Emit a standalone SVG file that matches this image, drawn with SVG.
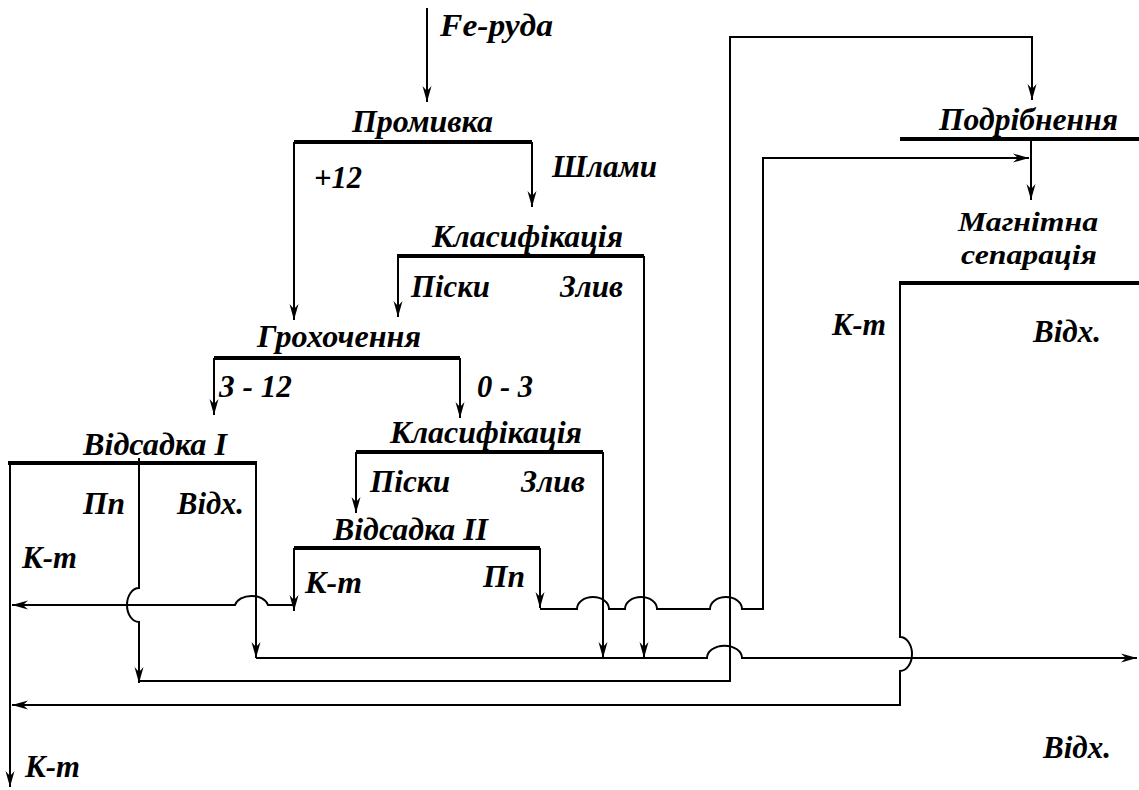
<svg xmlns="http://www.w3.org/2000/svg" width="1139" height="790" viewBox="0 0 1139 790">
<style>
.bar{stroke:#000;stroke-width:4;fill:none}
.ln{stroke:#000;stroke-width:2;fill:none;stroke-linejoin:miter}
.ar{marker-end:url(#arr)}
text{font-family:"Liberation Serif","Times New Roman",serif;font-weight:bold;font-style:italic;font-size:31px;fill:#000}
.sm{font-size:28px}
</style>
<defs>
<marker id="arr" markerUnits="userSpaceOnUse" viewBox="-17 -6 18 12" refX="0" refY="0" markerWidth="18" markerHeight="12" orient="auto">
<path d="M0,0 L-16,-4.5 L-11,0 L-16,4.5 Z" fill="#000"/>
</marker>
</defs>
<rect width="1139" height="790" fill="#fff"/>

<g id="input">
<text x="440" y="36" textLength="113" lengthAdjust="spacingAndGlyphs">Fe-руда</text>
</g>
<g id="promyvka">
<line class="bar" x1="294" y1="142" x2="532" y2="142"/>
<text x="352" y="132" textLength="141" lengthAdjust="spacingAndGlyphs">Промивка</text>
</g>
<g id="klasyf1">
<line class="bar" x1="398" y1="256" x2="644" y2="256"/>
<text x="432" y="247" textLength="191" lengthAdjust="spacingAndGlyphs">Класифікація</text>
</g>
<g id="grokhochennia">
<line class="bar" x1="214" y1="358" x2="460" y2="358"/>
<text x="257" y="347" textLength="164" lengthAdjust="spacingAndGlyphs">Грохочення</text>
</g>
<g id="vidsadka1">
<line class="bar" x1="8" y1="463" x2="257" y2="463"/>
<text x="83" y="455" textLength="144" lengthAdjust="spacingAndGlyphs">Відсадка I</text>
</g>
<g id="klasyf2">
<line class="bar" x1="356" y1="452" x2="603" y2="452"/>
<text x="390" y="443" textLength="192" lengthAdjust="spacingAndGlyphs">Класифікація</text>
</g>
<g id="vidsadka2">
<line class="bar" x1="294" y1="548" x2="540" y2="548"/>
<text x="333" y="540" textLength="155" lengthAdjust="spacingAndGlyphs">Відсадка II</text>
</g>
<g id="podribnennia">
<line class="bar" x1="900" y1="139" x2="1139" y2="139"/>
<text x="939" y="130" textLength="179" lengthAdjust="spacingAndGlyphs">Подрібнення</text>
</g>
<g id="magsep">
<line class="bar" x1="899" y1="283" x2="1139" y2="283"/>
<text class="sm" x="958" y="231" textLength="140" lengthAdjust="spacingAndGlyphs">Магнітна</text>
<text class="sm" x="961" y="264" textLength="136" lengthAdjust="spacingAndGlyphs">сепарація</text>
</g>

<g id="connectors">
<path class="ln ar" d="M427,8 V102"/>
<path class="ln ar" d="M294,142 V320"/>
<path class="ln ar" d="M532,142 V207"/>
<path class="ln ar" d="M398,254 V317"/>
<path class="ln ar" d="M644,256 V658"/>
<path class="ln ar" d="M214,358 V415"/>
<path class="ln ar" d="M460,358 V418"/>
<path class="ln ar" d="M356,452 V513"/>
<path class="ln ar" d="M603,452 V658"/>
<path class="ln ar" d="M10,463 V787"/>
<path class="ln ar" d="M139,458 V588 A12 17 0 0 0 139,622 V683"/>
<path class="ln ar" d="M256,463 V658"/>
<path class="ln ar" d="M256,658 H707 A17 12 0 0 1 742,658 H1137"/>
<path class="ln ar" d="M139,681 H730 V37 H1032 V100"/>
<path class="ln ar" d="M294,548 V611"/>
<path class="ln ar" d="M294,605 H268 A17 12 0 0 0 235,605 H12"/>
<path class="ln ar" d="M540,548 V608"/>
<path class="ln ar" d="M540,609 H577 A16 12 0 0 1 609,609 H625 A16 12 0 0 1 657,609 H710 A16 12 0 0 1 742,609 H763 V158 H1029"/>
<path class="ln ar" d="M1031,137 V200"/>
<path class="ln ar" d="M900,283 V637 A12 17 0 0 1 900,671 V705 H12"/>
<g id="labels">
<text x="314" y="188" textLength="48" lengthAdjust="spacingAndGlyphs">+12</text>
<text x="552" y="177" textLength="105" lengthAdjust="spacingAndGlyphs">Шлами</text>
<text x="411" y="297" textLength="79" lengthAdjust="spacingAndGlyphs">Піски</text>
<text x="560" y="297" textLength="63" lengthAdjust="spacingAndGlyphs">Злив</text>
<text x="219" y="397" textLength="73" lengthAdjust="spacingAndGlyphs">3 - 12</text>
<text x="477" y="397" textLength="56" lengthAdjust="spacingAndGlyphs">0 - 3</text>
<text x="83" y="514" textLength="42" lengthAdjust="spacingAndGlyphs">Пп</text>
<text x="177" y="514" textLength="67" lengthAdjust="spacingAndGlyphs">Відх.</text>
<text x="22" y="568" textLength="55" lengthAdjust="spacingAndGlyphs">К-т</text>
<text x="370" y="492" textLength="80" lengthAdjust="spacingAndGlyphs">Піски</text>
<text x="521" y="492" textLength="64" lengthAdjust="spacingAndGlyphs">Злив</text>
<text x="305" y="593" textLength="57" lengthAdjust="spacingAndGlyphs">К-т</text>
<text x="483" y="587" textLength="42" lengthAdjust="spacingAndGlyphs">Пп</text>
<text x="832" y="335" textLength="54" lengthAdjust="spacingAndGlyphs">К-т</text>
<text x="1033" y="342" textLength="68" lengthAdjust="spacingAndGlyphs">Відх.</text>
<text x="1043" y="758" textLength="68" lengthAdjust="spacingAndGlyphs">Відх.</text>
<text x="25" y="777" textLength="55" lengthAdjust="spacingAndGlyphs">К-т</text>
</g>
</g>
</svg>
